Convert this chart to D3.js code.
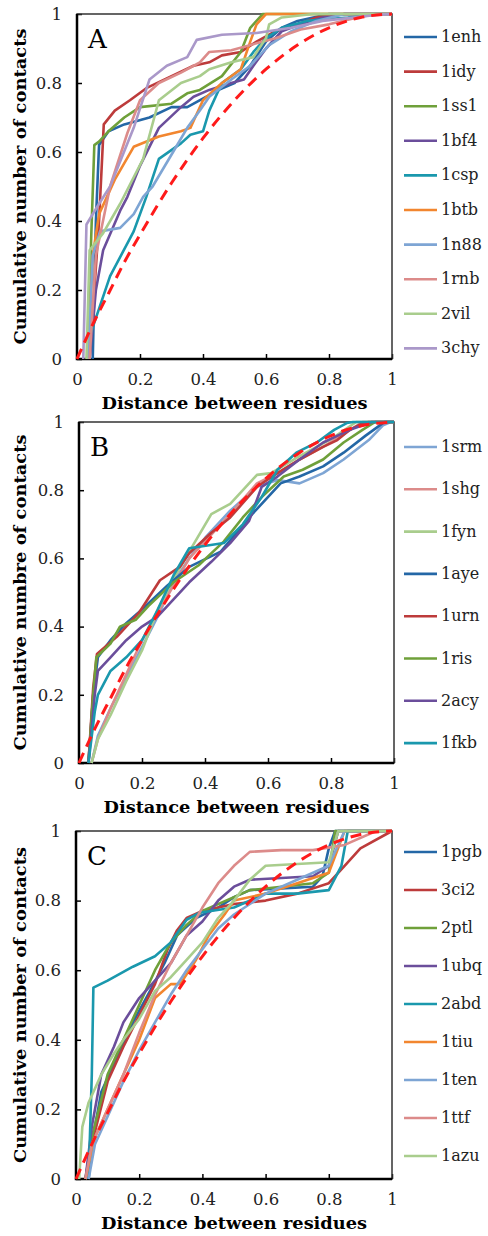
<!DOCTYPE html>
<html>
<head>
<meta charset="utf-8">
<script src="https://cdn.jsdelivr.net/npm/d3@7"></script>
<style>
body { margin: 0; background: #fff; }
svg { display: block; }
</style>
</head>
<body>
<svg width="488" height="1236"></svg>
<script>
// random-contact reference curve (red dashed)
const randomRef = [[0, 0], [0.05, 0.1], [0.1, 0.19], [0.15, 0.28], [0.2, 0.36], [0.3, 0.51], [0.4, 0.64],
  [0.5, 0.75], [0.6, 0.84], [0.7, 0.91], [0.8, 0.96], [0.9, 0.99], [1, 1]];

const xTicks = [0, 0.2, 0.4, 0.6, 0.8, 1];
const yTicks = [0, 0.2, 0.4, 0.6, 0.8, 1];

// panel A
const namesA = ['1enh', '1idy', '1ss1', '1bf4', '1csp', '1btb', '1n88', '1rnb', '2vil', '3chy'];
const a1enh = [[0.05, 0], [0.06, 0.4], [0.07, 0.62], [0.1, 0.66], [0.15, 0.68], [0.23, 0.7], [0.3, 0.73], [0.35, 0.73], [0.45, 0.78], [0.5, 0.8], [0.55, 0.85], [0.6, 0.92], [0.65, 0.96], [0.7, 0.98], [0.8, 1], [1, 1]];
const a1idy = [[0.04, 0], [0.07, 0.4], [0.085, 0.68], [0.12, 0.72], [0.168, 0.75], [0.22, 0.785], [0.3, 0.82], [0.37, 0.85], [0.42, 0.86], [0.46, 0.88], [0.52, 0.89], [0.57, 0.92], [0.63, 0.95], [0.7, 0.97], [0.76, 0.99], [0.85, 1], [1, 1]];
const a1ss1 = [[0.035, 0], [0.045, 0.35], [0.055, 0.62], [0.07, 0.63], [0.1, 0.66], [0.15, 0.7], [0.2, 0.73], [0.3, 0.74], [0.35, 0.77], [0.39, 0.78], [0.46, 0.82], [0.52, 0.89], [0.55, 0.96], [0.59, 1], [1, 1]];
const a1bf4 = [[0.04, 0], [0.06, 0.2], [0.083, 0.315], [0.137, 0.43], [0.16, 0.47], [0.2, 0.56], [0.26, 0.67], [0.33, 0.73], [0.37, 0.76], [0.42, 0.78], [0.49, 0.8], [0.53, 0.81], [0.56, 0.85], [0.6, 0.9], [0.65, 0.95], [0.71, 0.97], [0.78, 0.99], [0.85, 1], [1, 1]];
const a1csp = [[0.04, 0], [0.04, 0.065], [0.105, 0.24], [0.18, 0.37], [0.22, 0.47], [0.26, 0.58], [0.33, 0.625], [0.36, 0.65], [0.4, 0.66], [0.42, 0.72], [0.46, 0.8], [0.52, 0.84], [0.56, 0.89], [0.6, 0.93], [0.65, 0.96], [0.73, 0.98], [0.86, 0.99], [0.95, 1], [1, 1]];
const a1btb = [[0.035, 0], [0.05, 0.3], [0.07, 0.42], [0.12, 0.52], [0.18, 0.615], [0.26, 0.645], [0.33, 0.66], [0.36, 0.67], [0.4, 0.75], [0.46, 0.8], [0.52, 0.84], [0.55, 0.92], [0.57, 0.97], [0.6, 1], [1, 1]];
const a1n88 = [[0.035, 0], [0.05, 0.3], [0.073, 0.37], [0.137, 0.38], [0.18, 0.42], [0.21, 0.47], [0.24, 0.5], [0.305, 0.6], [0.35, 0.67], [0.39, 0.72], [0.42, 0.76], [0.49, 0.81], [0.55, 0.85], [0.61, 0.91], [0.68, 0.95], [0.76, 0.98], [0.85, 1], [1, 1]];
const a1rnb = [[0.04, 0], [0.06, 0.3], [0.105, 0.5], [0.16, 0.655], [0.2, 0.75], [0.26, 0.8], [0.33, 0.83], [0.39, 0.86], [0.42, 0.89], [0.49, 0.895], [0.57, 0.915], [0.63, 0.93], [0.71, 0.955], [0.8, 0.97], [0.89, 0.99], [0.95, 1], [1, 1]];
const a2vil = [[0.03, 0], [0.04, 0.315], [0.083, 0.365], [0.137, 0.45], [0.21, 0.58], [0.26, 0.75], [0.33, 0.8], [0.39, 0.82], [0.42, 0.84], [0.49, 0.86], [0.56, 0.875], [0.6, 0.93], [0.61, 0.97], [0.65, 0.99], [0.75, 1], [1, 1]];
const a3chy = [[0.02, 0], [0.03, 0.39], [0.07, 0.45], [0.105, 0.5], [0.18, 0.67], [0.23, 0.81], [0.285, 0.85], [0.35, 0.875], [0.38, 0.925], [0.46, 0.94], [0.57, 0.945], [0.68, 0.96], [0.78, 0.98], [0.95, 0.997], [1, 1]];
const linesA = [a1enh, a1idy, a1ss1, a1bf4, a1csp, a1btb, a1n88, a1rnb, a2vil, a3chy];

// panel B
const namesB = ['1srm', '1shg', '1fyn', '1aye', '1urn', '1ris', '2acy', '1fkb'];
const b1srm = [[0.04, 0], [0.06, 0.08], [0.1, 0.16], [0.15, 0.25], [0.2, 0.34], [0.25, 0.43], [0.3, 0.53], [0.35, 0.6], [0.4, 0.66], [0.48, 0.74], [0.565, 0.81], [0.63, 0.83], [0.7, 0.82], [0.775, 0.85], [0.84, 0.89], [0.92, 0.947], [0.965, 0.99], [0.99, 1], [1, 1]];
const b1shg = [[0.04, 0], [0.06, 0.07], [0.1, 0.16], [0.15, 0.26], [0.2, 0.36], [0.25, 0.44], [0.3, 0.52], [0.35, 0.6], [0.42, 0.67], [0.49, 0.74], [0.565, 0.82], [0.63, 0.85], [0.7, 0.89], [0.78, 0.93], [0.85, 0.97], [0.9, 1], [1, 1]];
const b1fyn = [[0.04, 0], [0.06, 0.07], [0.1, 0.14], [0.15, 0.24], [0.2, 0.33], [0.25, 0.45], [0.3, 0.54], [0.35, 0.62], [0.42, 0.73], [0.48, 0.76], [0.54, 0.82], [0.565, 0.845], [0.61, 0.85], [0.7, 0.9], [0.8, 0.95], [0.88, 1], [1, 1]];
const b1aye = [[0.03, 0], [0.045, 0.2], [0.06, 0.31], [0.1, 0.36], [0.15, 0.41], [0.2, 0.45], [0.28, 0.52], [0.35, 0.575], [0.45, 0.62], [0.55, 0.73], [0.64, 0.82], [0.7, 0.84], [0.775, 0.87], [0.84, 0.91], [0.91, 0.96], [0.955, 0.99], [0.97, 1], [1, 1]];
const b1urn = [[0.03, 0], [0.045, 0.22], [0.057, 0.32], [0.12, 0.37], [0.19, 0.44], [0.257, 0.536], [0.32, 0.575], [0.35, 0.615], [0.42, 0.675], [0.48, 0.72], [0.565, 0.81], [0.63, 0.85], [0.7, 0.89], [0.775, 0.927], [0.82, 0.947], [0.86, 0.977], [0.9, 0.997], [0.92, 1], [1, 1]];
const b1ris = [[0.03, 0], [0.045, 0.2], [0.055, 0.31], [0.1, 0.35], [0.13, 0.4], [0.18, 0.42], [0.22, 0.46], [0.3, 0.53], [0.38, 0.58], [0.46, 0.65], [0.52, 0.72], [0.58, 0.78], [0.65, 0.84], [0.71, 0.86], [0.775, 0.89], [0.84, 0.94], [0.9, 0.977], [0.94, 1], [1, 1]];
const b2acy = [[0.03, 0], [0.05, 0.2], [0.06, 0.27], [0.1, 0.31], [0.15, 0.36], [0.2, 0.4], [0.25, 0.43], [0.3, 0.48], [0.35, 0.53], [0.42, 0.59], [0.48, 0.645], [0.54, 0.71], [0.58, 0.81], [0.63, 0.84], [0.7, 0.89], [0.775, 0.94], [0.86, 0.977], [0.93, 1], [1, 1]];
const b1fkb = [[0.03, 0], [0.05, 0.15], [0.06, 0.2], [0.1, 0.27], [0.15, 0.31], [0.2, 0.36], [0.25, 0.45], [0.3, 0.55], [0.35, 0.63], [0.46, 0.645], [0.52, 0.7], [0.58, 0.78], [0.63, 0.86], [0.69, 0.91], [0.755, 0.94], [0.81, 0.977], [0.85, 0.997], [0.87, 1], [1, 1]];
const linesB = [b1srm, b1shg, b1fyn, b1aye, b1urn, b1ris, b2acy, b1fkb];

// panel C
const namesC = ['1pgb', '3ci2', '2ptl', '1ubq', '2abd', '1tiu', '1ten', '1ttf', '1azu'];
const c1pgb = [[0.04, 0], [0.05, 0.1], [0.08, 0.25], [0.12, 0.33], [0.18, 0.45], [0.24, 0.55], [0.28, 0.62], [0.32, 0.7], [0.38, 0.75], [0.45, 0.78], [0.5, 0.81], [0.55, 0.83], [0.65, 0.835], [0.75, 0.84], [0.78, 0.87], [0.8, 0.95], [0.82, 1], [1, 1]];
const c3ci2 = [[0.03, 0], [0.05, 0.1], [0.1, 0.28], [0.15, 0.38], [0.2, 0.47], [0.25, 0.56], [0.29, 0.66], [0.32, 0.715], [0.35, 0.75], [0.4, 0.77], [0.5, 0.79], [0.6, 0.8], [0.7, 0.82], [0.8, 0.85], [0.85, 0.9], [0.9, 0.95], [1, 1]];
const c2ptl = [[0.03, 0], [0.05, 0.12], [0.1, 0.3], [0.15, 0.4], [0.2, 0.5], [0.25, 0.6], [0.3, 0.68], [0.35, 0.73], [0.4, 0.77], [0.5, 0.81], [0.55, 0.83], [0.65, 0.84], [0.75, 0.85], [0.8, 0.88], [0.82, 1], [1, 1]];
const c1ubq = [[0.03, 0], [0.05, 0.15], [0.08, 0.3], [0.12, 0.38], [0.15, 0.45], [0.2, 0.52], [0.25, 0.57], [0.3, 0.62], [0.35, 0.7], [0.4, 0.74], [0.45, 0.8], [0.5, 0.84], [0.55, 0.86], [0.65, 0.865], [0.75, 0.87], [0.8, 0.9], [0.83, 1], [1, 1]];
const c2abd = [[0.04, 0], [0.05, 0.3], [0.055, 0.55], [0.1, 0.57], [0.18, 0.61], [0.25, 0.64], [0.3, 0.68], [0.35, 0.745], [0.39, 0.765], [0.5, 0.78], [0.6, 0.82], [0.7, 0.82], [0.8, 0.83], [0.84, 0.9], [0.86, 1], [1, 1]];
const c1tiu = [[0.03, 0], [0.06, 0.12], [0.1, 0.2], [0.15, 0.3], [0.2, 0.4], [0.25, 0.52], [0.3, 0.56], [0.33, 0.56], [0.38, 0.63], [0.42, 0.7], [0.47, 0.76], [0.5, 0.8], [0.6, 0.82], [0.7, 0.85], [0.8, 0.88], [0.85, 1], [1, 1]];
const c1ten = [[0.04, 0], [0.06, 0.1], [0.1, 0.18], [0.15, 0.28], [0.2, 0.37], [0.25, 0.45], [0.3, 0.53], [0.35, 0.6], [0.4, 0.66], [0.45, 0.72], [0.5, 0.76], [0.6, 0.82], [0.7, 0.86], [0.8, 0.9], [0.85, 1], [1, 1]];
const c1ttf = [[0.03, 0], [0.05, 0.1], [0.1, 0.2], [0.15, 0.3], [0.2, 0.42], [0.25, 0.53], [0.3, 0.62], [0.35, 0.7], [0.4, 0.78], [0.45, 0.85], [0.5, 0.9], [0.55, 0.94], [0.65, 0.945], [0.75, 0.945], [0.85, 0.96], [0.95, 1], [1, 1]];
const c1azu = [[0.01, 0], [0.02, 0.15], [0.04, 0.22], [0.08, 0.3], [0.12, 0.36], [0.15, 0.4], [0.2, 0.46], [0.25, 0.54], [0.3, 0.58], [0.35, 0.63], [0.4, 0.68], [0.45, 0.75], [0.5, 0.8], [0.55, 0.86], [0.6, 0.9], [0.8, 0.91], [0.83, 1], [1, 1]];
const linesC = [c1pgb, c3ci2, c2ptl, c1ubq, c2abd, c1tiu, c1ten, c1ttf, c1azu];

const blue = '#2467a6';
const red = '#bd3b3b';
const green = '#6fa03a';
const purple = '#6b4e9b';
const teal = '#1a98ad';
const orange = '#f2862f';
const ltBlue = '#7ea5d4';
const pink = '#dc8b8a';
const ltGreen = '#a9cd8d';
const lavender = '#aa98c9';

const svg = d3.select('svg');
const serif = '"DejaVu Serif", serif';

function drawPanel(p) {
  const x = d3.scaleLinear().domain([0, 1]).range([p.left, p.right]);
  const y = d3.scaleLinear().domain([0, 1]).range([p.bottom, p.top]);
  const g = svg.append('g');

  const xAxis = d3.axisBottom(x)
    .tickValues(xTicks)
    .tickFormat(d => (d === 0 || d === 1 ? d : d.toFixed(1)))
    .tickSizeInner(-5)
    .tickSizeOuter(0)
    .tickPadding(14);
  const yAxis = d3.axisLeft(y)
    .tickValues(yTicks)
    .tickFormat(d => (d === 0 || d === 1 ? d : d.toFixed(1)))
    .tickSizeInner(-5)
    .tickSizeOuter(0)
    .tickPadding(15);

  g.append('g').attr('transform', `translate(0,${p.bottom})`).call(xAxis);
  g.append('g').attr('transform', `translate(${p.left},0)`).call(yAxis);
  g.selectAll('.domain').remove();
  g.selectAll('.tick line').attr('stroke', '#000').attr('stroke-width', 1.5);
  g.selectAll('.tick text')
    .attr('font-family', serif)
    .attr('font-size', 16.5)
    .attr('fill', '#222');

  // frame
  g.append('rect')
    .attr('x', p.left).attr('y', p.top)
    .attr('width', p.right - p.left).attr('height', p.bottom - p.top)
    .attr('fill', 'none').attr('stroke', '#333').attr('stroke-width', 1.5);
  g.append('path')
    .attr('d', `M${p.left},${p.top}V${p.bottom}H${p.right}`)
    .attr('fill', 'none').attr('stroke', '#000').attr('stroke-width', 2.5);

  const line = d3.line().x(d => x(d[0])).y(d => y(d[1]));

  p.lines.forEach((pts, i) => {
    g.append('path')
      .datum(pts)
      .attr('d', line)
      .attr('fill', 'none')
      .attr('stroke', p.colors[i])
      .attr('stroke-width', 2.6)
      .attr('stroke-linejoin', 'round');
  });

  g.append('path')
    .datum(randomRef)
    .attr('d', line.curve(d3.curveMonotoneX))
    .attr('fill', 'none')
    .attr('stroke', '#ff1a1a')
    .attr('stroke-width', 3)
    .attr('stroke-dasharray', '11,7');

  g.append('text')
    .attr('x', p.left + 11).attr('y', p.top + 34)
    .attr('font-family', serif).attr('font-size', 26)
    .text(p.letter);

  g.append('text')
    .attr('x', (p.left + p.right) / 2).attr('y', p.bottom + 50)
    .attr('text-anchor', 'middle')
    .attr('font-family', serif).attr('font-size', 16).attr('font-weight', 'bold')
    .attr('textLength', 266).attr('lengthAdjust', 'spacingAndGlyphs')
    .text('Distance between residues');

  g.append('text')
    .attr('transform', `translate(26,${(p.top + p.bottom) / 2}) rotate(-90)`)
    .attr('text-anchor', 'middle')
    .attr('font-family', serif).attr('font-size', 16).attr('font-weight', 'bold')
    .attr('textLength', 316).attr('lengthAdjust', 'spacingAndGlyphs')
    .text(p.ylabel);

  // legend
  const lg = g.append('g');
  p.names.forEach((name, i) => {
    const ly = p.legendTop + i * p.legendStep;
    lg.append('line')
      .attr('x1', 404).attr('x2', 437).attr('y1', ly).attr('y2', ly)
      .attr('stroke', p.colors[i]).attr('stroke-width', 2.6);
    lg.append('text')
      .attr('x', 441).attr('y', ly + 5)
      .attr('font-family', serif).attr('font-size', 16).attr('fill', '#222')
      .text(name);
  });
}

drawPanel({
  letter: 'A', left: 77, right: 392, top: 14, bottom: 359,
  ylabel: 'Cumulative number of contacts',
  names: namesA, lines: linesA,
  colors: [blue, red, green, purple, teal, orange, ltBlue, pink, ltGreen, lavender],
  legendTop: 37, legendStep: 34.6,
});

drawPanel({
  letter: 'B', left: 79, right: 394, top: 422, bottom: 763,
  ylabel: 'Cumulative numbre of contacts',
  names: namesB, lines: linesB,
  colors: [ltBlue, pink, ltGreen, blue, red, green, purple, teal],
  legendTop: 447, legendStep: 42.3,
});

drawPanel({
  letter: 'C', left: 76, right: 392, top: 831, bottom: 1179,
  ylabel: 'Cumulative number of contacts',
  names: namesC, lines: linesC,
  colors: [blue, red, green, purple, teal, orange, ltBlue, pink, ltGreen],
  legendTop: 852, legendStep: 38,
});
</script>
</body>
</html>
